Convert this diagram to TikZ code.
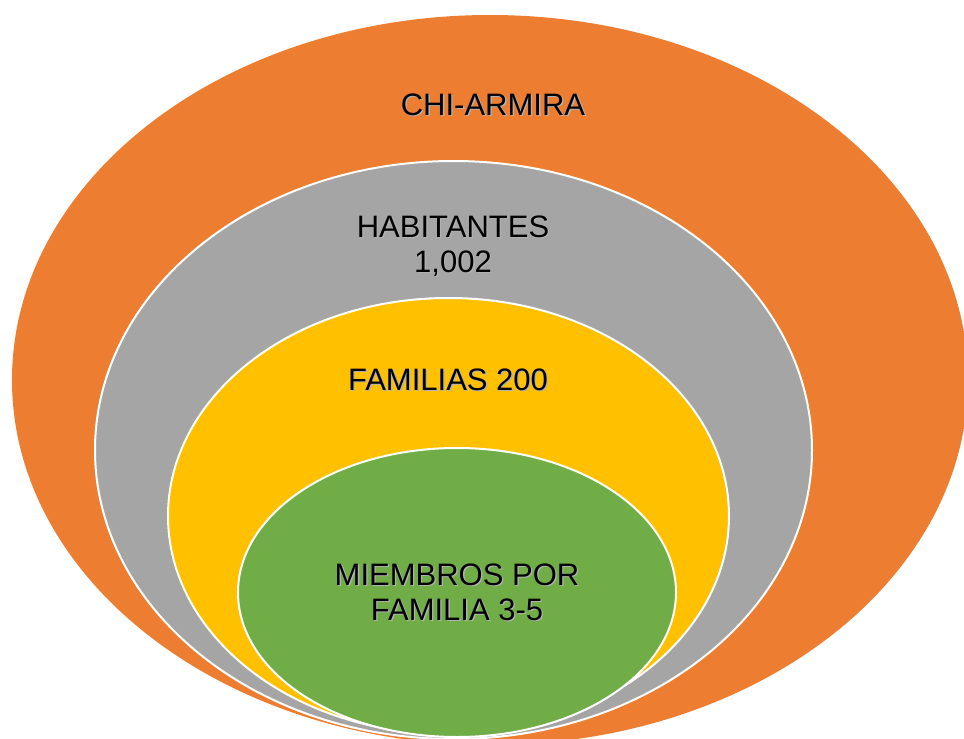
\documentclass[tikz,border=0pt]{standalone}
\usepackage{fontspec}
\setmainfont{Liberation Sans}
\usetikzlibrary{shapes.geometric,positioning}
\definecolor{ringOrange}{HTML}{ED7D31}
\definecolor{ringGray}{HTML}{A5A5A5}
\definecolor{ringGold}{HTML}{FFC000}
\definecolor{ringGreen}{HTML}{70AD47}
\newcommand{\shtxt}[1]{\makebox[0pt][l]{\hspace{1.3pt}\raisebox{-1.3pt}{\color{black!30}#1}}#1}

\begin{document}
\begin{tikzpicture}[x=1pt, y=-1pt,
          ring/.style={ellipse, inner sep=0pt, outer sep=0pt, draw=white, line width=2pt},
          ringtext/.style={font=\fontsize{31}{35}\selectfont, text=black, align=center, inner sep=0pt}
        ]
          \useasboundingbox (0,0) rectangle (964,739);
          \clip (0,0) rectangle (964,739);
          % nested rings, outer to inner
          \node[ring, draw=none, fill=ringOrange, minimum width=956pt, minimum height=730pt] (region) at (490,380) {};
          \node[ring, fill=ringGray, minimum width=717pt, minimum height=578pt] (people) at (453.5,450) {};
          \node[ring, fill=ringGold, minimum width=561pt, minimum height=436pt] (families) at (448.5,516) {};
          \node[ring, fill=ringGreen, minimum width=438pt, minimum height=289pt] (members) at (457,592.5) {};
          % labels
          \node[ringtext] (regionlbl) at (493,105) {\shtxt{CHI-ARMIRA}};
          \node[ringtext] (peoplelbl) at (453,247) {\shtxt{HABITANTES}\\\shtxt{1,002}};
          \node[ringtext] (familieslbl) at (448,380) {\shtxt{FAMILIAS 200}};
          \node[ringtext] (memberslbl) at (457,593) {\shtxt{MIEMBROS POR}\\\shtxt{FAMILIA 3-5}};
        \end{tikzpicture}
\end{document}
